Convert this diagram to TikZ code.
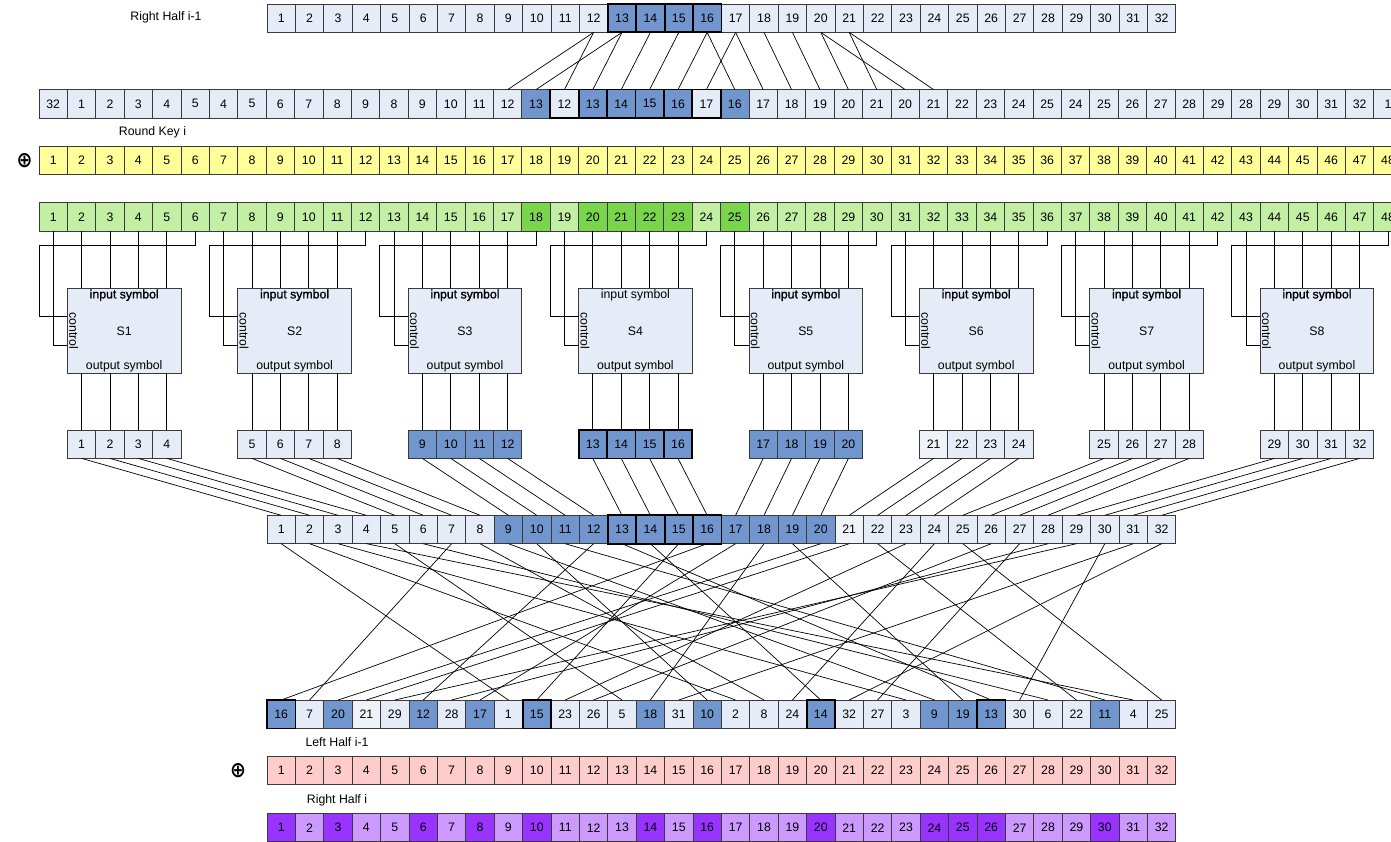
\documentclass[tikz,border=0pt]{standalone}
\usepackage{fontspec}
\setmainfont{Liberation Sans}
\newfontfamily\symfont{DejaVu Sans}
\newfontfamily\fbfont[FakeBold=1.2]{Liberation Sans}
\definecolor{lb}{HTML}{E6ECF7}
\definecolor{lw}{HTML}{EFF2F6}
\definecolor{bl}{HTML}{7196CD}
\definecolor{yl}{HTML}{FFFF99}
\definecolor{gl}{HTML}{C2EFA4}
\definecolor{gd}{HTML}{79D64C}
\definecolor{pk}{HTML}{FFCCCC}
\definecolor{pl}{HTML}{CC99FF}
\definecolor{pd}{HTML}{9933FF}
\definecolor{bord}{HTML}{3A3A3A}
\begin{document}
\begin{tikzpicture}[x=1pt,y=-1pt,
  cell/.style={draw=bord, line width=0.85pt, minimum width=28.4pt, minimum height=28.4pt, inner sep=0pt, outer sep=0pt, font=\fontsize{12.3}{14}\selectfont},
  boldb/.style={draw=black, line width=1.8pt},
  wire/.style={line width=0.7pt, draw=black},
  sbox/.style={draw=bord, fill=lb, line width=0.85pt, minimum width=113.6pt, minimum height=85pt, inner sep=0pt, outer sep=0pt},
  lbl/.style={font=\fontsize{12.3}{14}\selectfont},
  xor/.style={font=\symfont\bfseries\fontsize{19}{19}\selectfont, inner sep=0pt, yscale=1.15}]
\useasboundingbox (0,0) rectangle (1391,842);
\clip (0,0) rectangle (1391,842);
\coordinate (hA) at (0,245.5);
\coordinate (hB) at (0,316.7);
\coordinate (hC) at (0,345.3);

% labels
\node[lbl] (lRH) at (166,17) {Right Half i-1};
\node[lbl] (lRK) at (152.5,132) {Round Key i};
\node[xor] (x1) at (24.5,160.5) {⊕};
\node[lbl] (lLH) at (337,742) {Left Half i-1};
\node[xor] (x2) at (238,771) {⊕};
\node[lbl] (lRHi) at (337,800) {Right Half i};

% Right half i-1
\foreach \i in {1,...,32}{
  \def\col{lb}
  \ifnum\i>12 \ifnum\i<17 \def\col{bl}\fi\fi
  \node[cell,fill=\col] (a\i) at ({267+(\i-0.5)*28.4},18.2) {\i};
}
% Expansion row
\foreach \v [count=\i] in {32,1,2,3,4,5,4,5,6,7,8,9,8,9,10,11,12,13,12,13,14,15,16,17,16,17,18,19,20,21,20,21,22,23,24,25,24,25,26,27,28,29,28,29,30,31,32,1}{
  \def\col{lb}
  \ifnum\i=18 \def\col{bl}\fi
  \ifnum\i=25 \def\col{bl}\fi
  \ifnum\i>19 \ifnum\i<24 \def\col{bl}\fi\fi
  \node[cell,fill=\col] (e\i) at ({39+(\i-0.5)*28.4},103.8) {\v};
}
% Round key
\foreach \i in {1,...,48}{
  \node[cell,fill=yl] (k\i) at ({39+(\i-0.5)*28.4},160.5) {\i};
}
% XOR result
\foreach \i in {1,...,48}{
  \def\col{gl}
  \ifnum\i=18 \def\col{gd}\fi
  \ifnum\i=25 \def\col{gd}\fi
  \ifnum\i>19 \ifnum\i<24 \def\col{gd}\fi\fi
  \node[cell,fill=\col] (g\i) at ({39+(\i-0.5)*28.4},217) {\i};
}
% expansion wires
\foreach \j/\k in {12/17,12/19,13/18,13/20,14/21,15/22,16/23,16/25,17/24,17/26,18/27,19/28,20/29,20/31,21/30,21/32}
  \draw[wire] (a\j.south) -- (e\k.north);

% S-boxes
\foreach \k in {0,...,7}{
  \pgfmathtruncatemacro\ma{6*\k+1}
  \pgfmathtruncatemacro\mb{6*\k+6}
  \pgfmathtruncatemacro\sn{\k+1}
  \node[sbox] (s\sn) at ({39+(6*\k+3)*28.4},330.8) {};
  \ifnum\sn=4 \def\fb{}\else\def\fb{\fbfont}\fi
  \node[lbl, anchor=north, inner sep=1pt] (si\sn) at (s\sn.north) {\fb input symbol};
  \node[lbl] (sl\sn) at (s\sn.center) {S\sn};
  \node[lbl, anchor=south, inner sep=1pt] (so\sn) at (s\sn.south) {output symbol};
  \node[lbl, rotate=-90, inner sep=0pt] (sc\sn) at ([xshift=6.3pt]s\sn.west) {control};
  \foreach \j in {2,...,5}{
    \pgfmathtruncatemacro\m{6*\k+\j}
    \draw[wire] (g\m.south) -- (g\m.south |- s\sn.north);
  }
  \draw[wire] (g\mb.south) -- (g\mb.south |- hA) -- (g\ma.south west |- hA) -- (g\ma.south west |- hB) -- (s\sn.west |- hB);
  \draw[wire] (g\ma.south) -- (g\ma.south |- hC) -- (s\sn.west |- hC);
  \foreach \j in {1,...,4}{
    \pgfmathtruncatemacro\n{4*\k+\j}
    \def\col{lb}
    \ifnum\n>8 \ifnum\n<21 \def\col{bl}\fi\fi
    \ifnum\n=21 \def\col{lw}\fi
    \node[cell,fill=\col] (o\n) at ({39+(6*\k+\j+0.5)*28.4},444.2) {\n};
    \draw[wire] (o\n.north |- s\sn.south) -- (o\n.north);
  }
}

% P input row
\foreach \i in {1,...,32}{
  \def\col{lb}
  \ifnum\i>8 \ifnum\i<21 \def\col{bl}\fi\fi
  \ifnum\i=21 \def\col{lw}\fi
  \node[cell,fill=\col] (p\i) at ({267+(\i-0.5)*28.4},529.5) {\i};
}
\foreach \j in {1,...,32}
  \draw[wire] (o\j.south) -- (p\j.north);

% P output row
\foreach \v [count=\i] in {16,7,20,21,29,12,28,17,1,15,23,26,5,18,31,10,2,8,24,14,32,27,3,9,19,13,30,6,22,11,4,25}{
  \def\col{lb}
  \ifnum\v>8 \ifnum\v<21 \def\col{bl}\fi\fi
  \ifnum\v=21 \def\col{lw}\fi
  \node[cell,fill=\col] (q\i) at ({267+(\i-0.5)*28.4},714.2) {\v};
  \draw[wire] (p\v.south) -- (q\i.north);
}

% Left half
\foreach \i in {1,...,32}
  \node[cell,fill=pk] (l\i) at ({267+(\i-0.5)*28.4},770.5) {\i};
% Right half i
\foreach \i/\c in {1/pd,2/pl,3/pd,4/pl,5/pl,6/pd,7/pl,8/pd,9/pl,10/pd,11/pl,12/pl,13/pl,14/pd,15/pl,16/pd,17/pl,18/pl,19/pl,20/pd,21/pl,22/pl,23/pl,24/pd,25/pd,26/pd,27/pl,28/pl,29/pl,30/pd,31/pl,32/pl}
  \node[cell,fill=\c] (r\i) at ({267+(\i-0.5)*28.4},827.7) {\i};

% bold borders
\foreach \i in {13,...,16}{
  \draw[boldb] (a\i.south west) rectangle (a\i.north east);
  \draw[boldb] (o\i.south west) rectangle (o\i.north east);
  \draw[boldb] (p\i.south west) rectangle (p\i.north east);
}
\foreach \i in {19,...,24}
  \draw[boldb] (e\i.south west) rectangle (e\i.north east);
\foreach \i in {1,10,20,26}
  \draw[boldb] (q\i.south west) rectangle (q\i.north east);
\end{tikzpicture}
\end{document}
